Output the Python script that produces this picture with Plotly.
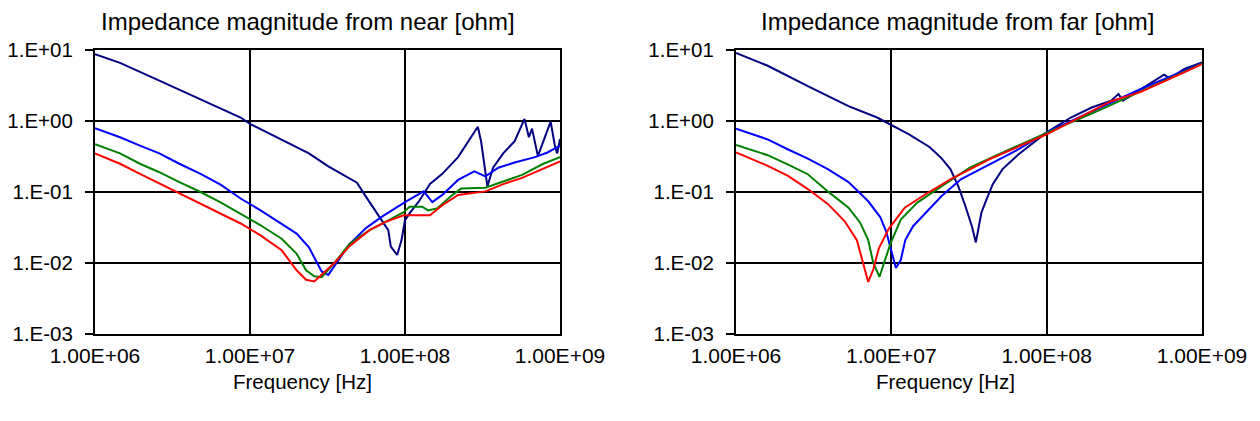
import plotly.graph_objects as go

# ---------------- data: near end ----------------
near_navy_f = [1.0e6, 1.45e6, 2.6e6, 4.8e6, 8.7e6, 1.0e7, 1.6e7, 2.4e7, 3.2e7, 4.1e7, 4.9e7, 5.5e7,
               6.6e7, 7.8e7, 8.1e7, 8.9e7, 9.5e7, 1.0e8, 1.07e8, 1.23e8, 1.45e8, 1.74e8, 2.2e8, 2.7e8,
               2.95e8, 3.1e8, 3.4e8, 3.7e8, 4.3e8, 5.1e8, 5.9e8, 6.3e8, 6.6e8, 7.2e8, 7.8e8, 8.7e8,
               9.3e8, 9.6e8, 1.0e9]
near_navy_z = [8.7, 6.6, 3.7, 2.0, 1.12, 0.91, 0.54, 0.35, 0.23, 0.17, 0.135, 0.091,
               0.05, 0.029, 0.017, 0.013, 0.021, 0.040, 0.05, 0.074, 0.13, 0.18, 0.31, 0.63,
               0.83, 0.51, 0.12, 0.22, 0.35, 0.52, 1.07, 0.59, 0.78, 0.32, 0.52, 0.98,
               0.43, 0.35, 0.56]

near_blue_f = [1.0e6, 1.45e6, 1.95e6, 2.6e6, 3.5e6, 4.8e6, 6.5e6, 8.7e6, 1.17e7, 1.6e7, 2.0e7, 2.4e7,
               2.9e7, 3.2e7, 3.6e7, 4.4e7, 5.6e7, 7.1e7, 1.0e8, 1.32e8, 1.5e8, 1.74e8, 2.2e8, 2.8e8,
               3.3e8, 4.0e8, 5.1e8, 6.9e8, 8.3e8, 1.0e9]
near_blue_z = [0.79, 0.59, 0.45, 0.35, 0.25, 0.18, 0.126, 0.081, 0.055, 0.036, 0.026, 0.0166,
               0.0076, 0.0068, 0.010, 0.0186, 0.031, 0.045, 0.072, 0.102, 0.072, 0.091, 0.148, 0.195,
               0.166, 0.22, 0.26, 0.31, 0.36, 0.45]

near_green_f = [1.0e6, 1.45e6, 1.95e6, 2.6e6, 3.5e6, 4.8e6, 6.5e6, 8.7e6, 1.17e7, 1.6e7, 2.0e7, 2.3e7,
                2.6e7, 2.9e7, 3.5e7, 4.4e7, 5.9e7, 7.5e7, 9.8e7, 1.07e8, 1.29e8, 1.41e8, 1.62e8, 1.95e8,
                2.3e8, 3.3e8, 4.3e8, 5.7e8, 7.8e8, 1.0e9]
near_green_z = [0.47, 0.35, 0.25, 0.19, 0.138, 0.10, 0.071, 0.049, 0.034, 0.022, 0.0135, 0.0079,
                0.0065, 0.0063, 0.010, 0.0186, 0.029, 0.038, 0.052, 0.062, 0.062, 0.055, 0.059, 0.085,
                0.112, 0.115, 0.14, 0.174, 0.25, 0.31]

near_red_f = [1.0e6, 1.45e6, 1.95e6, 2.6e6, 3.5e6, 4.8e6, 6.5e6, 8.7e6, 1.17e7, 1.6e7, 2.0e7, 2.3e7,
              2.6e7, 2.9e7, 3.5e7, 4.4e7, 5.9e7, 7.5e7, 9.8e7, 1.07e8, 1.45e8, 1.74e8, 2.2e8, 3.3e8,
              4.3e8, 5.7e8, 7.8e8, 1.0e9]
near_red_z = [0.35, 0.25, 0.18, 0.132, 0.095, 0.069, 0.049, 0.036, 0.0245, 0.0151, 0.0079, 0.0058,
              0.0055, 0.0068, 0.010, 0.0174, 0.029, 0.038, 0.047, 0.047, 0.047, 0.065, 0.091, 0.102,
              0.129, 0.158, 0.21, 0.27]

# ---------------- data: far end ----------------
far_navy_f = [1.0e6, 1.6e6, 2.9e6, 5.3e6, 8.1e6, 1.0e7, 1.3e7, 1.76e7, 2.1e7, 2.4e7, 2.7e7, 3.0e7,
              3.3e7, 3.5e7, 3.6e7, 3.8e7, 4.1e7, 4.5e7, 5.2e7, 6.6e7, 1.0e8, 1.43e8, 1.95e8, 2.6e8,
              2.9e8, 3.1e8, 4.2e8, 5.7e8, 6.2e8, 7.7e8, 1.0e9]
far_navy_z = [9.1, 6.0, 3.1, 1.62, 1.12, 0.87, 0.65, 0.43, 0.30, 0.21, 0.12, 0.063,
              0.033, 0.0195, 0.027, 0.051, 0.079, 0.129, 0.21, 0.34, 0.69, 1.12, 1.55, 1.93,
              2.4, 1.93, 2.95, 4.5, 4.0, 5.4, 6.7]

far_blue_f = [1.0e6, 1.6e6, 2.15e6, 2.9e6, 3.9e6, 5.3e6, 7.1e6, 8.5e6, 9.3e6, 1.02e7, 1.07e7, 1.15e7,
              1.23e7, 1.38e7, 1.66e7, 2.1e7, 2.8e7, 4.3e7, 6.6e7, 1.0e8, 1.5e8, 2.5e8, 4.0e8, 6.0e8,
              1.0e9]
far_blue_z = [0.78, 0.55, 0.40, 0.295, 0.21, 0.138, 0.074, 0.044, 0.027, 0.0126, 0.0085, 0.011,
              0.021, 0.033, 0.051, 0.087, 0.151, 0.245, 0.40, 0.69, 1.05, 1.75, 2.8, 4.1,
              6.5]

far_green_f = [1.0e6, 1.6e6, 2.15e6, 2.9e6, 3.9e6, 5.3e6, 6.3e6, 7.1e6, 7.65e6, 8.4e6, 9.1e6, 9.9e6,
               1.15e7, 1.47e7, 2.1e7, 3.2e7, 5.8e7, 1.0e8, 2.0e8, 4.0e8, 1.0e9]
far_green_z = [0.46, 0.33, 0.245, 0.178, 0.102, 0.060, 0.037, 0.021, 0.010, 0.0064, 0.011, 0.019,
               0.041, 0.071, 0.12, 0.22, 0.40, 0.68, 1.3, 2.6, 6.4]

far_red_f = [1.0e6, 1.6e6, 2.15e6, 2.9e6, 3.9e6, 5.0e6, 6.0e6, 6.5e6, 7.1e6, 7.65e6, 8.3e6, 9.6e6,
             1.22e7, 1.66e7, 2.4e7, 4.3e7, 7.9e7, 1.0e8, 2.6e8, 4.0e8, 6.0e8, 1.0e9]
far_red_z = [0.36, 0.234, 0.17, 0.11, 0.068, 0.039, 0.021, 0.0112, 0.0054, 0.0081, 0.016, 0.030,
             0.060, 0.093, 0.151, 0.29, 0.52, 0.65, 1.9, 2.55, 3.8, 6.3]

x_tickvals = [1e6, 1e7, 1e8, 1e9]
x_ticktext = ["1.00E+06", "1.00E+07", "1.00E+08", "1.00E+09"]
y_tickvals = [1e-3, 1e-2, 1e-1, 1e0, 1e1]
y_ticktext = ["1.E-03", "1.E-02", "1.E-01", "1.E+00", "1.E+01"]

titles = ["Impedance magnitude from near [ohm]", "Impedance magnitude from far [ohm]"]
x_title = "Frequency [Hz]"

colors = {"navy": "#000080", "blue": "#0000FF", "green": "#008000", "red": "#FF0000"}

FONT = "Liberation Sans, Arial, sans-serif"

# The page body has an 8px default margin; size the figure so it fits the window
OFF = 8
WIN_W, WIN_H = 1260, 421
W, H = WIN_W - 2 * OFF, WIN_H - 2 * OFF

def px(xw):
    return (xw - OFF) / W

def py(yw):
    return 1 - (yw - OFF) / H

fig = go.Figure()

near = [(near_navy_f, near_navy_z, "navy"), (near_blue_f, near_blue_z, "blue"),
        (near_green_f, near_green_z, "green"), (near_red_f, near_red_z, "red")]
far = [(far_navy_f, far_navy_z, "navy"), (far_blue_f, far_blue_z, "blue"),
       (far_green_f, far_green_z, "green"), (far_red_f, far_red_z, "red")]

for f, z, c in near:
    fig.add_trace(go.Scatter(x=f, y=z, mode="lines", xaxis="x", yaxis="y",
                             line=dict(color=colors[c], width=2), showlegend=False))
for f, z, c in far:
    fig.add_trace(go.Scatter(x=f, y=z, mode="lines", xaxis="x2", yaxis="y2",
                             line=dict(color=colors[c], width=2), showlegend=False))

# plot areas in window pixels
L1, R1 = 95, 560
L2, R2 = 736, 1202
TOP, BOT = 50, 334

ydom = [py(BOT), py(TOP)]

xaxis_common = dict(type="log", range=[6, 9], tickvals=x_tickvals, ticktext=x_ticktext,
                    showgrid=True, gridcolor="black", gridwidth=2, showline=True,
                    linecolor="black", linewidth=2, mirror=True, ticks="",
                    zeroline=False, automargin=False, ticklabelstandoff=2,
                    tickfont=dict(family=FONT, size=21, color="black"))
yaxis_common = dict(type="log", range=[-3, 1], tickvals=y_tickvals, ticktext=y_ticktext,
                    showgrid=True, gridcolor="black", gridwidth=2, showline=True,
                    linecolor="black", linewidth=2, mirror=True, ticks="outside",
                    ticklen=8, tickwidth=2, tickcolor="black", zeroline=False,
                    automargin=False, ticklabelstandoff=8,
                    tickfont=dict(family=FONT, size=20.5, color="black"))

fig.update_layout(
    width=W, height=H,
    margin=dict(l=0, r=0, t=0, b=0, pad=0, autoexpand=False),
    paper_bgcolor="white", plot_bgcolor="white",
    xaxis=dict(domain=[px(L1), px(R1)], anchor="y", **xaxis_common),
    yaxis=dict(domain=ydom, anchor="x", **yaxis_common),
    xaxis2=dict(domain=[px(L2), px(R2)], anchor="y2", **xaxis_common),
    yaxis2=dict(domain=ydom, anchor="x2", **yaxis_common),
)

annots = []
for t, cx in zip(titles, [308, 958]):
    annots.append(dict(text=t, x=px(cx), y=py(21), xref="paper", yref="paper",
                       xanchor="center", yanchor="middle", showarrow=False,
                       font=dict(family=FONT, size=24, color="black")))
for cx in [302, 945]:
    annots.append(dict(text=x_title, x=px(cx), y=py(381), xref="paper", yref="paper",
                       xanchor="center", yanchor="middle", showarrow=False,
                       font=dict(family=FONT, size=20.5, color="black")))
fig.update_layout(annotations=annots)

fig.write_html("out.html")
